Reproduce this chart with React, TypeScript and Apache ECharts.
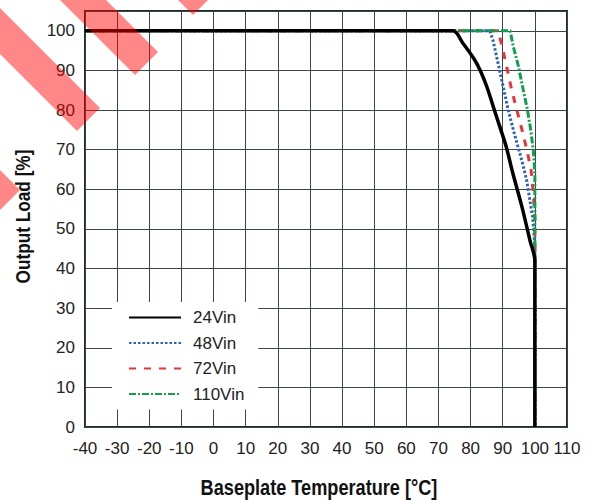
import React, { useEffect, useRef } from "react";
import * as echarts from "echarts";

const seriesNames = ["24Vin", "48Vin", "72Vin", "110Vin"];

const temp24 = [-40, 74.5, 77.5, 81, 83, 85, 87, 89, 91, 93, 96, 98.5, 100, 100];
const load24 = [100, 100, 97, 93, 90, 86, 81, 76, 71, 64.5, 55.5, 47, 42, 0];

const temp48 = [-40, 86, 87, 88.6, 90.2, 91.7, 93.3, 95, 96.2, 97.5, 98.5, 99.3, 100, 100];
const load48 = [100, 100, 97.5, 91.6, 85.7, 80, 75, 70, 66.5, 62, 57, 53, 46, 0];

const temp72 = [-40, 88.5, 89.7, 91.2, 92.8, 94.4, 96, 97.5, 98.8, 99.5, 100, 100];
const load72 = [100, 100, 96.5, 91, 85, 80, 75, 70, 65, 59, 53, 0];

const temp110 = [-40, 92.3, 93.3, 94.9, 96.4, 97.7, 98.7, 99.5, 100, 100];
const load110 = [100, 100, 96, 91, 85, 80, 75, 70, 64, 0];

const xMin = -40;
const xMax = 110;
const yMin = 0;
const yMax = 105;
const tickStep = 10;

const xTitle = "Baseplate Temperature [°C]";
const yTitle = "Output Load [%]";

const zip = (xs: number[], ys: number[]) => xs.map((x, i) => [x, ys[i]]);

const FONT = "'Liberation Sans', Arial, sans-serif";

export default function App() {
  const ref = useRef<HTMLDivElement>(null);

  useEffect(() => {
    if (!ref.current) return;
    const chart = echarts.init(ref.current, undefined, { renderer: "svg" });

    const stripe = (ex: number, ey: number) => {
      const ox = -23, oy = 23;
      const L = 300;
      return {
        type: "polygon",
        z: 100,
        silent: true,
        shape: {
          points: [
            [ex, ey],
            [ex + ox, ey + oy],
            [ex + ox - L, ey + oy - L],
            [ex - L, ey - L],
          ],
        },
        style: { fill: "rgba(255,0,0,0.47)" },
      };
    };

    chart.setOption({
      animation: false,
      backgroundColor: "#fff",
      grid: {
        left: 85,
        top: 11,
        right: 25,
        bottom: 73,
        show: true,
        borderColor: "#1e2b2b",
        borderWidth: 2,
        backgroundColor: "transparent",
      },
      xAxis: {
        type: "value",
        min: xMin,
        max: xMax,
        interval: tickStep,
        axisLine: { show: false },
        axisTick: { show: false },
        axisLabel: { fontFamily: FONT, fontSize: 17, color: "#222", margin: 13 },
        splitLine: { show: true, lineStyle: { color: "#3a4545", width: 1 } },
      },
      yAxis: {
        type: "value",
        min: yMin,
        max: yMax,
        interval: tickStep,
        axisLine: { show: false },
        axisTick: { show: false },
        axisLabel: { fontFamily: FONT, fontSize: 17, color: "#222", margin: 10, showMaxLabel: false },
        splitLine: { show: true, lineStyle: { color: "#3a4545", width: 1 } },
      },
      legend: {
        orient: "vertical",
        left: 112,
        top: 302,
        backgroundColor: "#fff",
        padding: [7, 14, 7, 16],
        itemWidth: 52,
        itemHeight: 14,
        itemGap: 8.5,
        itemStyle: { opacity: 0 },
        textStyle: { fontFamily: FONT, fontSize: 17, color: "#222", padding: [0, 0, 0, 7] },
        data: seriesNames,
      },
      series: [
        {
          name: seriesNames[0],
          type: "line",
          data: zip(temp24, load24),
          symbol: "none",
          smooth: 0.3,
          z: 5,
          lineStyle: { color: "#000", width: 3.5, type: "solid" },
          itemStyle: { color: "#000" },
        },
        {
          name: seriesNames[1],
          type: "line",
          data: zip(temp48, load48),
          symbol: "none",
          z: 3,
          lineStyle: { color: "#2e62b6", width: 3, type: [2.5, 2], cap: "butt" },
          itemStyle: { color: "#2e62b6" },
        },
        {
          name: seriesNames[2],
          type: "line",
          data: zip(temp72, load72),
          symbol: "none",
          z: 3,
          lineStyle: { color: "#e8353c", width: 3, type: [7, 8], cap: "butt" },
          itemStyle: { color: "#e8353c" },
        },
        {
          name: seriesNames[3],
          type: "line",
          data: zip(temp110, load110),
          symbol: "none",
          z: 3,
          lineStyle: { color: "#119e4e", width: 3, type: [7, 2, 2, 2], cap: "butt" },
          itemStyle: { color: "#119e4e" },
        },
      ],
      graphic: [
        {
          type: "text",
          x: 319,
          y: 487,
          scaleX: 0.825,
          silent: true,
          style: {
            text: xTitle,
            fontFamily: FONT,
            fontWeight: "bold",
            fontSize: 22,
            fill: "#111",
            align: "center",
            verticalAlign: "middle",
          },
        },
        {
          type: "text",
          x: 23,
          y: 216.5,
          rotation: Math.PI / 2,
          scaleX: 0.82,
          silent: true,
          style: {
            text: yTitle,
            fontFamily: FONT,
            fontWeight: "bold",
            fontSize: 21,
            fill: "#111",
            align: "center",
            verticalAlign: "middle",
          },
        },
        stripe(216, -8),
        stripe(158, 52),
        stripe(100, 108),
        stripe(20, 190),
      ],
    });

    return () => chart.dispose();
  }, []);

  return (
    <div
      ref={ref}
      style={{ position: "fixed", left: 0, top: 0, width: 592, height: 500 }}
    />
  );
}
